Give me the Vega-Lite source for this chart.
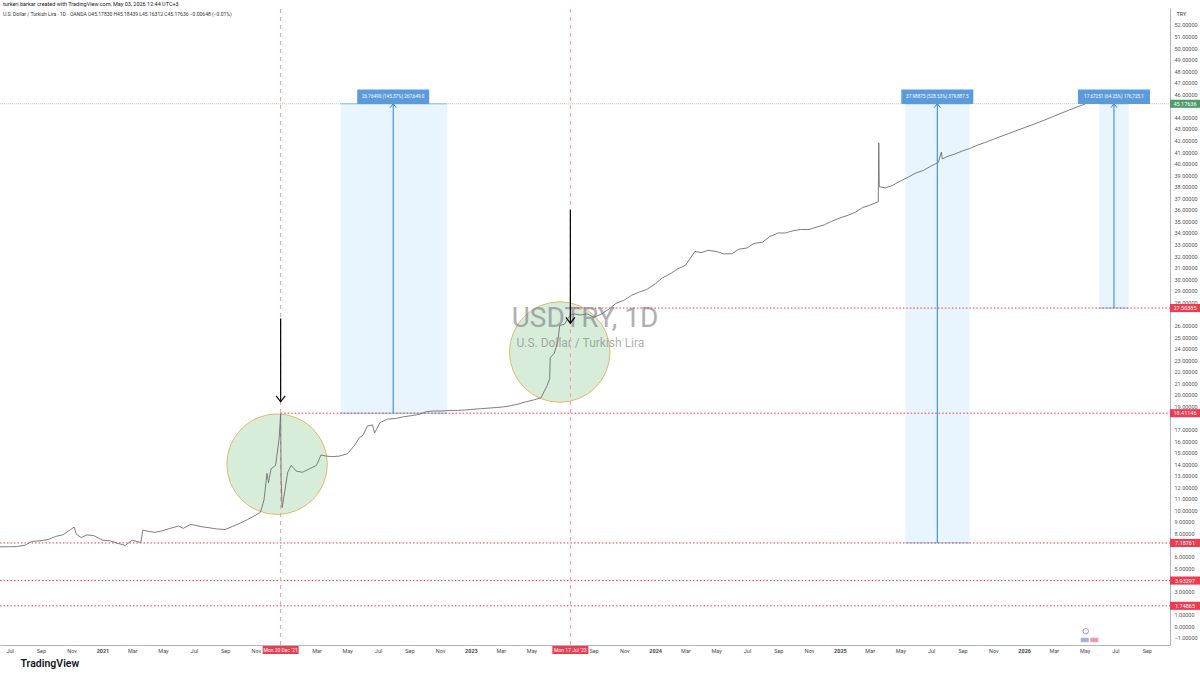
{
  "$schema": "https://vega.github.io/schema/vega-lite/v6.json",
  "width": 1170,
  "height": 637,
  "autosize": {"type": "none"},
  "padding": {"left": 0, "top": 8, "right": 30, "bottom": 30},
  "background": "white",
  "config": {"view": {"stroke": null}, "font": "Roboto"},
  "title": {
    "text": "turkeri.barkar created with TradingView.com, May 03, 2026 12:44 UTC+3",
    "subtitle": "U.S. Dollar / Turkish Lira · 1D · OANDA   O45.17830  H45.18439  L45.16312  C45.17636  −0.00648 (−0.01%)",
    "anchor": "start",
    "frame": "group",
    "fontSize": 5.5,
    "fontWeight": "normal",
    "color": "#131722",
    "subtitleFontSize": 5,
    "subtitleColor": "#333333",
    "subtitlePadding": 4,
    "offset": -9,
    "dx": 3
  },
  "datasets": {
    "price": [
      {"date": "2020-06-12", "v": 6.85}, {"date": "2020-07-01", "v": 6.86}, {"date": "2020-07-15", "v": 6.87},
      {"date": "2020-08-01", "v": 7.0}, {"date": "2020-08-14", "v": 7.32}, {"date": "2020-08-28", "v": 7.36},
      {"date": "2020-09-15", "v": 7.48}, {"date": "2020-09-30", "v": 7.75}, {"date": "2020-10-15", "v": 7.9},
      {"date": "2020-10-30", "v": 8.35}, {"date": "2020-11-06", "v": 8.56}, {"date": "2020-11-10", "v": 7.95},
      {"date": "2020-11-20", "v": 7.65}, {"date": "2020-12-01", "v": 7.88}, {"date": "2020-12-15", "v": 7.82},
      {"date": "2021-01-01", "v": 7.43}, {"date": "2021-01-15", "v": 7.38}, {"date": "2021-02-01", "v": 7.15},
      {"date": "2021-02-15", "v": 6.97}, {"date": "2021-03-01", "v": 7.42}, {"date": "2021-03-18", "v": 7.22},
      {"date": "2021-03-22", "v": 8.3}, {"date": "2021-04-01", "v": 8.2}, {"date": "2021-04-15", "v": 8.1},
      {"date": "2021-05-01", "v": 8.25}, {"date": "2021-05-15", "v": 8.45}, {"date": "2021-06-01", "v": 8.65},
      {"date": "2021-06-10", "v": 8.45}, {"date": "2021-06-25", "v": 8.8}, {"date": "2021-07-15", "v": 8.6},
      {"date": "2021-08-01", "v": 8.5}, {"date": "2021-08-15", "v": 8.4}, {"date": "2021-09-01", "v": 8.35},
      {"date": "2021-09-15", "v": 8.6}, {"date": "2021-10-01", "v": 8.9}, {"date": "2021-10-15", "v": 9.2},
      {"date": "2021-11-01", "v": 9.6}, {"date": "2021-11-10", "v": 9.85}, {"date": "2021-11-17", "v": 10.9},
      {"date": "2021-11-23", "v": 13.2}, {"date": "2021-11-26", "v": 12.4}, {"date": "2021-12-01", "v": 13.6},
      {"date": "2021-12-10", "v": 13.9}, {"date": "2021-12-17", "v": 16.2}, {"date": "2021-12-20", "v": 18.36},
      {"date": "2021-12-21", "v": 12.6}, {"date": "2021-12-23", "v": 10.25}, {"date": "2021-12-28", "v": 11.6},
      {"date": "2022-01-03", "v": 13.3}, {"date": "2022-01-10", "v": 13.9}, {"date": "2022-01-20", "v": 13.4},
      {"date": "2022-02-01", "v": 13.3}, {"date": "2022-02-15", "v": 13.6}, {"date": "2022-03-01", "v": 13.9},
      {"date": "2022-03-10", "v": 14.8}, {"date": "2022-03-20", "v": 14.7}, {"date": "2022-04-01", "v": 14.65},
      {"date": "2022-04-15", "v": 14.7}, {"date": "2022-05-01", "v": 14.9}, {"date": "2022-05-15", "v": 15.6},
      {"date": "2022-05-25", "v": 16.3}, {"date": "2022-06-01", "v": 16.5}, {"date": "2022-06-10", "v": 17.3},
      {"date": "2022-06-20", "v": 17.4}, {"date": "2022-06-24", "v": 16.7}, {"date": "2022-07-05", "v": 17.6},
      {"date": "2022-07-20", "v": 17.9}, {"date": "2022-08-05", "v": 17.95}, {"date": "2022-08-20", "v": 18.1},
      {"date": "2022-09-05", "v": 18.2}, {"date": "2022-09-20", "v": 18.3}, {"date": "2022-10-05", "v": 18.55},
      {"date": "2022-10-20", "v": 18.6}, {"date": "2022-11-05", "v": 18.6}, {"date": "2022-11-20", "v": 18.65},
      {"date": "2022-12-05", "v": 18.65}, {"date": "2022-12-20", "v": 18.68}, {"date": "2023-01-05", "v": 18.75},
      {"date": "2023-01-20", "v": 18.8}, {"date": "2023-02-05", "v": 18.85}, {"date": "2023-02-20", "v": 18.9},
      {"date": "2023-03-05", "v": 18.95}, {"date": "2023-03-20", "v": 19.05}, {"date": "2023-04-05", "v": 19.2},
      {"date": "2023-04-20", "v": 19.4}, {"date": "2023-05-05", "v": 19.55}, {"date": "2023-05-20", "v": 19.75},
      {"date": "2023-06-01", "v": 20.8}, {"date": "2023-06-06", "v": 21.4}, {"date": "2023-06-07", "v": 23.2},
      {"date": "2023-06-15", "v": 23.6}, {"date": "2023-06-22", "v": 24.6}, {"date": "2023-06-26", "v": 26.0},
      {"date": "2023-07-05", "v": 26.1}, {"date": "2023-07-17", "v": 26.9}, {"date": "2023-07-25", "v": 27.0},
      {"date": "2023-08-05", "v": 26.9}, {"date": "2023-08-20", "v": 27.0}, {"date": "2023-09-01", "v": 26.7},
      {"date": "2023-09-15", "v": 26.95}, {"date": "2023-10-01", "v": 27.4}, {"date": "2023-10-15", "v": 27.9},
      {"date": "2023-11-01", "v": 28.2}, {"date": "2023-11-15", "v": 28.6}, {"date": "2023-12-01", "v": 28.9},
      {"date": "2023-12-15", "v": 29.1}, {"date": "2024-01-01", "v": 29.6}, {"date": "2024-01-15", "v": 30.1},
      {"date": "2024-02-01", "v": 30.5}, {"date": "2024-02-15", "v": 30.9}, {"date": "2024-03-01", "v": 31.2},
      {"date": "2024-03-15", "v": 32.1}, {"date": "2024-03-20", "v": 32.4}, {"date": "2024-04-01", "v": 32.3},
      {"date": "2024-04-15", "v": 32.5}, {"date": "2024-05-01", "v": 32.4}, {"date": "2024-05-15", "v": 32.2},
      {"date": "2024-06-01", "v": 32.2}, {"date": "2024-06-15", "v": 32.6}, {"date": "2024-07-01", "v": 32.7},
      {"date": "2024-07-15", "v": 33.1}, {"date": "2024-08-01", "v": 33.2}, {"date": "2024-08-15", "v": 33.7},
      {"date": "2024-09-01", "v": 34.0}, {"date": "2024-09-15", "v": 34.0}, {"date": "2024-10-01", "v": 34.2},
      {"date": "2024-10-15", "v": 34.3}, {"date": "2024-11-01", "v": 34.3}, {"date": "2024-11-15", "v": 34.5},
      {"date": "2024-12-01", "v": 34.7}, {"date": "2024-12-15", "v": 35.0}, {"date": "2025-01-01", "v": 35.3},
      {"date": "2025-01-15", "v": 35.5}, {"date": "2025-02-01", "v": 35.8}, {"date": "2025-02-15", "v": 36.2},
      {"date": "2025-03-01", "v": 36.4}, {"date": "2025-03-18", "v": 36.7}, {"date": "2025-03-19", "v": 41.8},
      {"date": "2025-03-20", "v": 38.0}, {"date": "2025-04-01", "v": 37.9}, {"date": "2025-04-15", "v": 38.1},
      {"date": "2025-05-01", "v": 38.5}, {"date": "2025-05-15", "v": 38.8}, {"date": "2025-06-01", "v": 39.2},
      {"date": "2025-06-15", "v": 39.4}, {"date": "2025-07-01", "v": 39.8}, {"date": "2025-07-15", "v": 40.1},
      {"date": "2025-07-21", "v": 41.0}, {"date": "2025-07-23", "v": 40.4}, {"date": "2025-08-01", "v": 40.6},
      {"date": "2025-08-15", "v": 40.8}, {"date": "2025-09-01", "v": 41.1}, {"date": "2025-09-15", "v": 41.3},
      {"date": "2025-10-01", "v": 41.6}, {"date": "2025-10-20", "v": 41.9}, {"date": "2025-11-01", "v": 42.1},
      {"date": "2025-12-01", "v": 42.6}, {"date": "2026-01-01", "v": 43.1}, {"date": "2026-02-01", "v": 43.6},
      {"date": "2026-03-01", "v": 44.1}, {"date": "2026-04-01", "v": 44.65}, {"date": "2026-05-03", "v": 45.17636}
    ],
    "hlines": [
      {"d1": "2023-07-17", "d2": "2026-10-17", "v": 27.50385},
      {"d1": "2021-12-20", "d2": "2026-10-17", "v": 18.41146},
      {"d1": "2020-06-12", "d2": "2026-10-17", "v": 7.18761},
      {"d1": "2020-06-12", "d2": "2026-10-17", "v": 3.93297},
      {"d1": "2020-06-12", "d2": "2026-10-17", "v": 1.74865}
    ],
    "curline": [{"d1": "2020-06-12", "d2": "2026-10-17", "v": 45.17636}],
    "vlines": [
      {"date": "2021-12-20", "lbl": "Mon 20 Dec '21", "lo": -1.64, "hi": 53.46},
      {"date": "2023-07-17", "lbl": "Mon 17 Jul '23", "lo": -1.64, "hi": 53.46}
    ],
    "boxes": [
      {"d1": "2022-04-18", "d2": "2022-11-15", "mid": "2022-07-31", "lo": 18.41146, "hi": 45.17636, "lbl": "26.76490 (145.37%) 267,649.0"},
      {"d1": "2025-05-11", "d2": "2025-09-15", "mid": "2025-07-13", "lo": 7.18761, "hi": 45.17636, "lbl": "37.98875 (528.53%) 379,887.5"},
      {"d1": "2026-05-30", "d2": "2026-07-27", "mid": "2026-06-28", "lo": 27.50385, "hi": 45.17636, "lbl": "17.67251 (64.25%) 176,725.1"}
    ],
    "circles": [{"date": "2021-12-13", "v": 14.0}, {"date": "2023-06-26", "v": 23.7}],
    "arrows": [{"date": "2021-12-20", "v": 19.4, "v2": 26.6}, {"date": "2023-07-17", "v": 26.2, "v2": 36.0}],
    "wm1": [{"date": "2023-08-15", "v": 26.6, "txt": "USDTRY, 1D"}],
    "wm2": [{"date": "2023-08-06", "v": 24.45, "txt": "U.S. Dollar / Turkish Lira"}],
    "events": [{"date": "2026-05-03", "v": -0.45}],
    "eventpills": [{"date": "2026-05-01", "v": -1.2, "kind": "a"}, {"date": "2026-05-20", "v": -1.2, "kind": "b"}],
    "ylabels": [
      {"v": 45.17636, "txt": "45.17636", "kind": "cur"},
      {"v": 27.50385, "txt": "27.50385", "kind": "lvl"},
      {"v": 18.41146, "txt": "18.41146", "kind": "lvl"},
      {"v": 7.18761, "txt": "7.18761", "kind": "lvl"},
      {"v": 3.93297, "txt": "3.93297", "kind": "lvl"},
      {"v": 1.74865, "txt": "1.74865", "kind": "lvl"}
    ]
  },
  "encoding": {
    "x": {
      "field": "date", "type": "temporal",
      "scale": {"type": "utc", "domain": [{"year": 2020, "month": 6, "date": 12, "utc": true}, {"year": 2026, "month": 10, "date": 17, "utc": true}], "nice": false},
      "axis": {
        "title": "TradingView", "titleAnchor": "start", "titleAlign": "left", "titleX": 20, "titlePadding": 5,
        "titleFontSize": 10.5, "titleFontWeight": 600, "titleColor": "#131722",
        "tickCount": {"interval": "month", "step": 2},
        "labelExpr": "(utcyear(datum.value) === 2022 && utcmonth(datum.value) === 0) || (utcyear(datum.value) === 2023 && utcmonth(datum.value) === 6) ? '' : (utcmonth(datum.value) === 0 ? utcFormat(datum.value, '%Y') : utcFormat(datum.value, '%b'))",
        "labelFontWeight": {"condition": {"test": "utcmonth(datum.value) === 0", "value": "bold"}, "value": "normal"},
        "labelFontSize": 5.5, "labelColor": "#4a4a4a", "labelPadding": 3, "ticks": false,
        "domainColor": "#b2b5be", "grid": false, "labelFlush": false, "labelOverlap": false, "zindex": 0
      }
    },
    "y": {
      "field": "v", "type": "quantitative",
      "scale": {"domain": [-1.64, 53.46], "nice": false, "zero": false},
      "axis": {
        "orient": "right", "title": "TRY", "titleAngle": 0, "titleFontSize": 5.5, "titleFontWeight": "normal",
        "titleColor": "#333333", "titleAnchor": "end", "titleAlign": "left", "titleBaseline": "middle", "titleX": 6, "titleY": 5,
        "values": [-1,0,1,2,3,4,5,6,7,8,9,10,11,12,13,14,15,16,17,18,19,20,21,22,23,24,25,26,27,28,29,30,31,32,33,34,35,36,37,38,39,40,41,42,43,44,45,46,47,48,49,50,51,52],
        "labelExpr": "indexof([45, 27, 18, 7, 4, 2], datum.value) >= 0 ? '' : format(datum.value, '.5f')",
        "labelFontSize": 5.5, "labelColor": "#555555", "labelPadding": 4, "ticks": false,
        "domainColor": "#b2b5be", "grid": false, "labelOverlap": false, "zindex": 0
      }
    }
  },
  "layer": [
    {
      "data": {"name": "boxes"},
      "mark": {"type": "rect", "color": "#2196f3", "opacity": 0.1},
      "encoding": {"x": {"field": "d1", "type": "temporal"}, "x2": {"field": "d2"}, "y": {"field": "lo", "type": "quantitative"}, "y2": {"field": "hi"}}
    },
    {
      "data": {"name": "boxes"},
      "mark": {"type": "rule", "color": "#2196f3", "opacity": 0.55, "strokeWidth": 1},
      "encoding": {"x": {"field": "d1", "type": "temporal"}, "x2": {"field": "d2"}, "y": {"field": "lo", "type": "quantitative"}}
    },
    {
      "data": {"name": "boxes"},
      "mark": {"type": "rule", "color": "#2196f3", "opacity": 0.55, "strokeWidth": 1},
      "encoding": {"x": {"field": "d1", "type": "temporal"}, "x2": {"field": "d2"}, "y": {"field": "hi", "type": "quantitative"}}
    },
    {
      "data": {"name": "circles"},
      "mark": {"type": "point", "shape": "circle", "filled": true, "fill": "#4caf50", "fillOpacity": 0.22, "stroke": "#e0b45c", "strokeOpacity": 0.9, "strokeWidth": 1, "size": 10100}
    },
    {
      "data": {"name": "wm1"},
      "mark": {"type": "text", "fontSize": 28, "color": "#787b86", "opacity": 0.6, "align": "center", "baseline": "middle"},
      "encoding": {"text": {"field": "txt"}}
    },
    {
      "data": {"name": "wm2"},
      "mark": {"type": "text", "fontSize": 12, "color": "#787b86", "opacity": 0.6, "align": "center", "baseline": "middle"},
      "encoding": {"text": {"field": "txt"}}
    },
    {
      "data": {"name": "curline"},
      "mark": {"type": "rule", "color": "#a5c8b0", "strokeWidth": 0.8, "strokeDash": [1, 1]},
      "encoding": {"x": {"field": "d1", "type": "temporal"}, "x2": {"field": "d2"}}
    },
    {
      "data": {"name": "hlines"},
      "mark": {"type": "rule", "color": "#f23645", "strokeWidth": 1, "strokeDash": [1.5, 2]},
      "encoding": {"x": {"field": "d1", "type": "temporal"}, "x2": {"field": "d2"}}
    },
    {
      "data": {"name": "vlines"},
      "mark": {"type": "rule", "color": "#f39aa2", "strokeWidth": 1, "strokeDash": [4, 4]},
      "encoding": {"y": {"field": "lo", "type": "quantitative"}, "y2": {"field": "hi"}}
    },
    {
      "data": {"name": "boxes"},
      "mark": {"type": "rule", "color": "#2f7fe0", "strokeWidth": 1},
      "encoding": {"x": {"field": "mid", "type": "temporal"}, "y": {"field": "lo", "type": "quantitative"}, "y2": {"field": "hi"}}
    },
    {
      "data": {"name": "boxes"},
      "mark": {"type": "point", "shape": "M-1,1.3L0,0L1,1.3", "filled": false, "stroke": "#2f7fe0", "strokeWidth": 1, "size": 36, "opacity": 1},
      "encoding": {"x": {"field": "mid", "type": "temporal"}, "y": {"field": "hi", "type": "quantitative"}}
    },
    {
      "data": {"name": "price"},
      "mark": {"type": "line", "color": "#6f6f6f", "strokeWidth": 0.9}
    },
    {
      "data": {"name": "arrows"},
      "mark": {"type": "rule", "color": "#000000", "strokeWidth": 1.2},
      "encoding": {"y2": {"field": "v2"}}
    },
    {
      "data": {"name": "arrows"},
      "mark": {"type": "point", "shape": "M-1,-1.3L0,0L1,-1.3", "filled": false, "stroke": "#000000", "strokeWidth": 1.2, "size": 81, "opacity": 1}
    },
    {
      "data": {"name": "events"},
      "mark": {"type": "point", "shape": "circle", "filled": false, "stroke": "#9c6ade", "strokeWidth": 0.8, "size": 30, "opacity": 1}
    },
    {
      "data": {"name": "eventpills"},
      "mark": {"type": "point", "shape": "M-1,-0.55H1V0.55H-1Z", "filled": true, "strokeWidth": 0, "size": 64, "opacity": 0.85},
      "encoding": {"fill": {"condition": {"test": "datum.kind === 'a'", "value": "#8fa6e8"}, "value": "#f0888f"}}
    },
    {
      "data": {"name": "boxes"},
      "mark": {"type": "point", "shape": "M-1,-0.2H1V0.2H-1Z", "filled": true, "fill": "#5b9bdc", "strokeWidth": 0, "size": 5184, "opacity": 1, "yOffset": -7},
      "encoding": {"x": {"field": "mid", "type": "temporal"}, "y": {"field": "hi", "type": "quantitative"}}
    },
    {
      "data": {"name": "boxes"},
      "mark": {"type": "text", "fontSize": 4.6, "color": "white", "align": "center", "baseline": "middle", "yOffset": -7},
      "encoding": {"x": {"field": "mid", "type": "temporal"}, "y": {"field": "hi", "type": "quantitative"}, "text": {"field": "lbl"}}
    },
    {
      "data": {"name": "ylabels"},
      "mark": {"type": "point", "shape": "M-1,-0.27H1V0.27H-1Z", "filled": true, "strokeWidth": 0, "size": 900, "opacity": 1, "xOffset": 15},
      "encoding": {
        "x": {"value": "width"},
        "fill": {"condition": {"test": "datum.kind === 'cur'", "value": "#4f9a6b"}, "value": "#ee3b4f"}
      }
    },
    {
      "data": {"name": "ylabels"},
      "mark": {"type": "text", "fontSize": 5.5, "color": "white", "align": "center", "baseline": "middle", "xOffset": 15},
      "encoding": {"x": {"value": "width"}, "text": {"field": "txt"}}
    },
    {
      "data": {"name": "vlines"},
      "mark": {"type": "point", "shape": "M-1,-0.22H1V0.22H-1Z", "filled": true, "fill": "#ee3b4f", "strokeWidth": 0, "size": 1296, "opacity": 1, "yOffset": 5},
      "encoding": {"y": {"value": "height"}}
    },
    {
      "data": {"name": "vlines"},
      "mark": {"type": "text", "fontSize": 5, "color": "white", "align": "center", "baseline": "middle", "yOffset": 5},
      "encoding": {"y": {"value": "height"}, "text": {"field": "lbl"}}
    }
  ]
}
